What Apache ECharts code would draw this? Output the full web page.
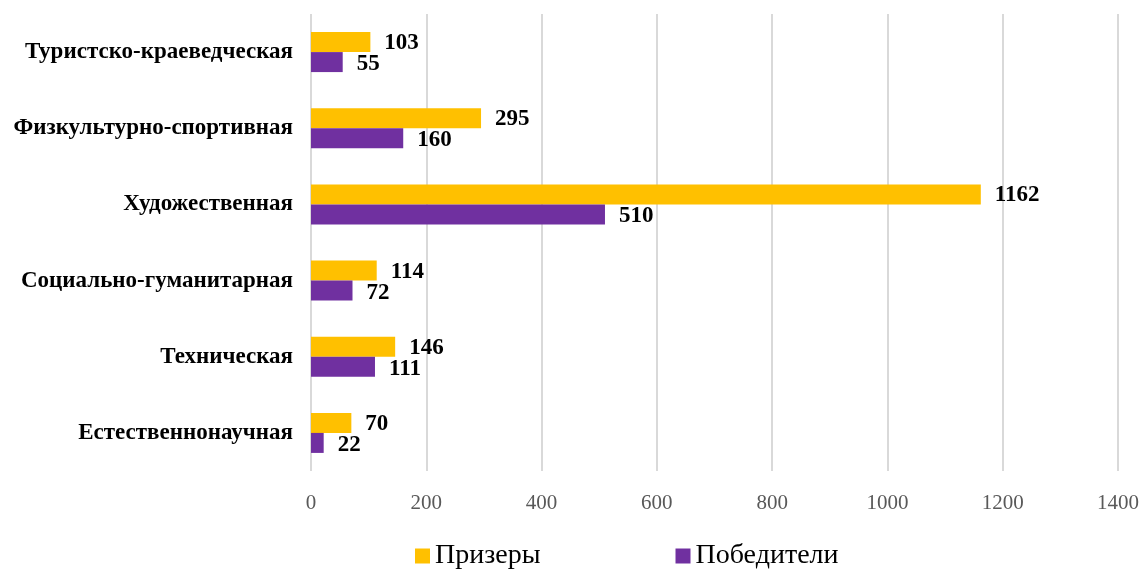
<!DOCTYPE html>
<html>
<head>
<meta charset="utf-8">
<script src="https://cdn.jsdelivr.net/npm/echarts@6/dist/echarts.min.js"></script>
<style>
    html, body { margin: 0; padding: 0; background: #fff; }
    #chart { width: 1143px; height: 572px; }
</style>
</head>
<body>
<div id="chart"></div>
<script>
// категории снизу вверх
var categories = ['Естественнонаучная', 'Техническая', 'Социально-гуманитарная', 'Художественная', 'Физкультурно-спортивная', 'Туристско-краеведческая'];
var prizery = [70, 146, 114, 1162, 295, 103];
var pobediteli = [22, 111, 72, 510, 160, 55];
var xTicks = [0, 200, 400, 600, 800, 1000, 1200, 1400];

var serif = '"Liberation Serif", "DejaVu Serif", serif';

var myChart = echarts.init(document.getElementById('chart'));
var option = {
    animation: false,
    textStyle: { fontFamily: serif },
    grid: {
        left: 311,
        right: 25,
        top: 14,
        bottom: 101
    },
    legend: {
        top: 537,
        left: 410,
        itemGap: 135,
        itemWidth: 15,
        itemHeight: 15,
        icon: 'rect',
        textStyle: { fontFamily: serif, fontSize: 28, color: '#000' },
        data: ['Призеры', 'Победители']
    },
    xAxis: {
        type: 'value',
        min: xTicks[0],
        max: xTicks[xTicks.length - 1],
        interval: 200,
        axisLine: { show: false },
        axisTick: { show: false },
        splitLine: { lineStyle: { color: '#d9d9d9', width: 2 } },
        axisLabel: {
            fontFamily: serif, fontSize: 21, color: '#595959', margin: 22,
            formatter: function (v) { return String(v); }
        }
    },
    yAxis: {
        type: 'category',
        data: categories,
        axisLine: { show: false },
        axisTick: { show: false },
        axisLabel: { fontFamily: serif, fontSize: 23, fontWeight: 'bold', color: '#000', margin: 18, padding: [2, 0, 0, 0] }
    },
    series: [
        {
            name: 'Призеры',
            type: 'bar',
            data: prizery,
            barWidth: 20,
            barGap: '0%',
            itemStyle: { color: '#FFC000' },
            label: { show: true, position: 'right', distance: 14, offset: [0, 1], fontFamily: serif, fontSize: 23, fontWeight: 'bold', color: '#000' }
        },
        {
            name: 'Победители',
            type: 'bar',
            data: pobediteli,
            barWidth: 20,
            itemStyle: { color: '#7030A0' },
            label: { show: true, position: 'right', distance: 14, offset: [0, 2], fontFamily: serif, fontSize: 23, fontWeight: 'bold', color: '#000' }
        }
    ]
};
myChart.setOption(option);
</script>
</body>
</html>
